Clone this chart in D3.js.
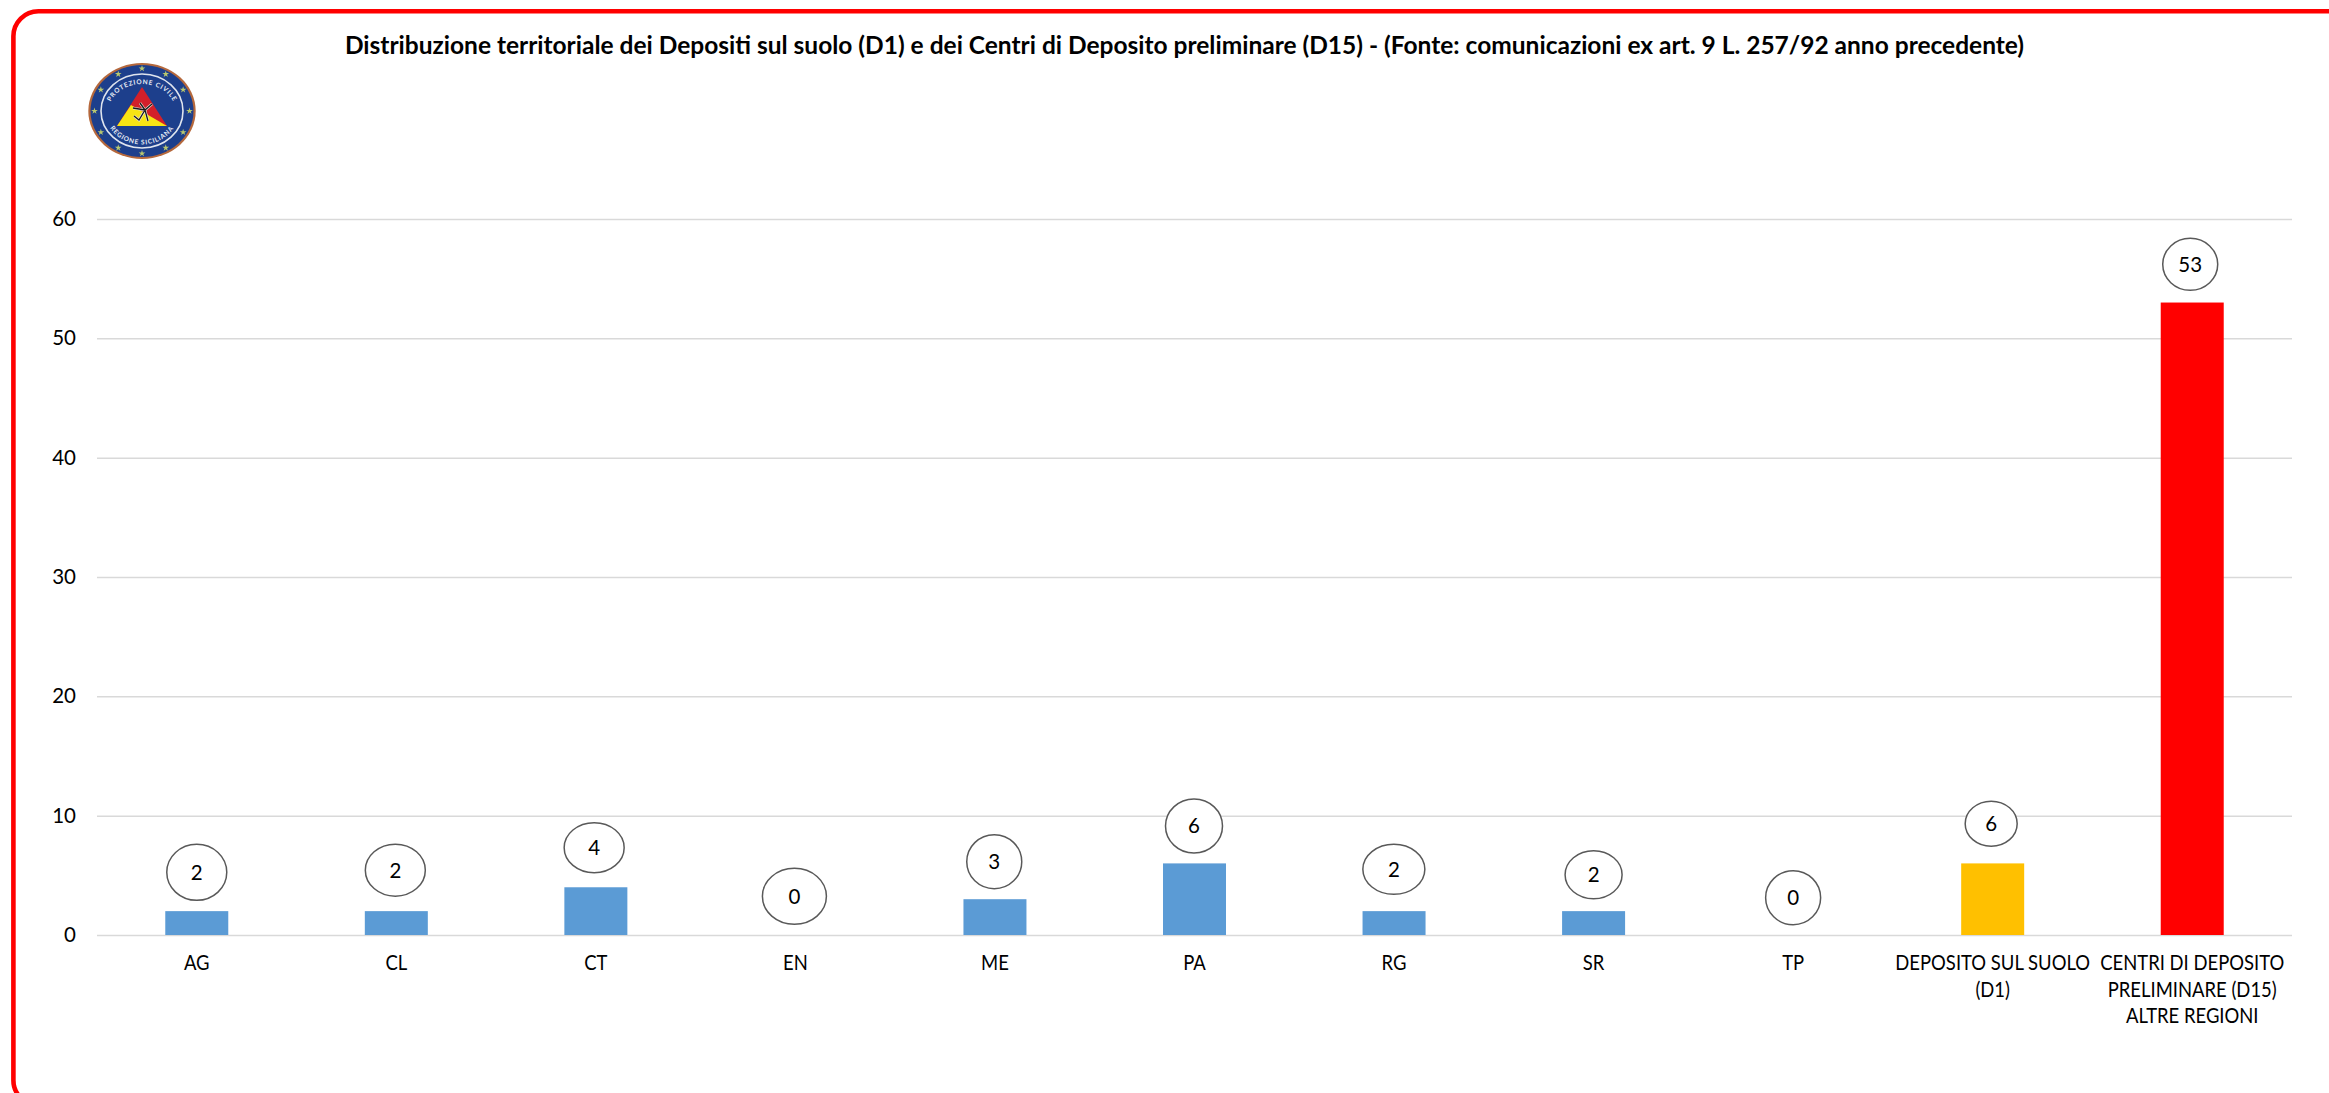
<!DOCTYPE html>
<html lang="it">
<head>
    <meta charset="UTF-8">
    <title>Distribuzione territoriale</title>
    <script src="https://cdnjs.cloudflare.com/ajax/libs/d3/7.8.5/d3.min.js"></script>
    <style>
        html, body { margin: 0; padding: 0; background: #fff; overflow: hidden; }
        svg { display: block; }
        text { font-family: Lato, "Open Sans", sans-serif; }
    </style>
</head>
<body>
    <div id="wrapper"></div>
    <script>
        const titleText = 'Distribuzione territoriale dei Depositi sul suolo (D1) e dei Centri di Deposito preliminare (D15) - (Fonte: comunicazioni ex art. 9 L. 257/92 anno precedente)'
        const categories = ['AG', 'CL', 'CT', 'EN', 'ME', 'PA', 'RG', 'SR', 'TP', 'DEPOSITO SUL SUOLO (D1)', 'CENTRI DI DEPOSITO PRELIMINARE (D15) ALTRE REGIONI']
        const categoryLines = [['AG'], ['CL'], ['CT'], ['EN'], ['ME'], ['PA'], ['RG'], ['SR'], ['TP'],
            ['DEPOSITO SUL SUOLO', '(D1)'], ['CENTRI DI DEPOSITO', 'PRELIMINARE (D15)', 'ALTRE REGIONI']]
        const values = [2, 2, 4, 0, 3, 6, 2, 2, 0, 6, 53]
        const yTicks = [0, 10, 20, 30, 40, 50, 60]

        function drawChart() {
            const dimensions = {
                width: 2329,
                height: 1093,
                margin: { top: 219, right: 37, bottom: 158, left: 97 },
            }
            dimensions.boundedWidth = dimensions.width - dimensions.margin.left - dimensions.margin.right
            dimensions.boundedHeight = dimensions.height - dimensions.margin.top - dimensions.margin.bottom

            const wrapper = d3.select('#wrapper')
                .append('svg')
                    .attr('width', dimensions.width)
                    .attr('height', dimensions.height)
                    .attr('viewBox', `0 0 ${dimensions.width} ${dimensions.height}`)

            // red rounded frame, runs off the right and bottom of the page
            wrapper.append('rect')
                .attr('x', 13.4)
                .attr('y', 11.2)
                .attr('width', 2340)
                .attr('height', 1094)
                .attr('rx', 25)
                .attr('fill', 'none')
                .attr('stroke', '#ff0000')
                .attr('stroke-width', 4.6)

            wrapper.append('text')
                .attr('x', 1184.5)
                .attr('y', 53.5)
                .attr('text-anchor', 'middle')
                .attr('font-weight', 700)
                .attr('font-size', 24.5)
                .attr('fill', '#000')
                .text(titleText)

            drawLogo(wrapper.append('g').attr('transform', 'translate(142,111)'))

            const bounds = wrapper.append('g')
                .attr('transform', `translate(${dimensions.margin.left}, ${dimensions.margin.top})`)

            const xScale = d3.scaleBand()
                .domain(categories)
                .range([0, dimensions.boundedWidth])
            const yScale = d3.scaleLinear()
                .domain([0, 60])
                .range([dimensions.boundedHeight, 0])

            const yAxis = bounds.append('g')
                .call(d3.axisLeft(yScale)
                    .tickValues(yTicks)
                    .tickSize(-dimensions.boundedWidth)
                    .tickPadding(21))
            yAxis.select('.domain').remove()
            yAxis.selectAll('.tick line')
                .attr('stroke', '#d9d9d9')
                .attr('stroke-width', 1.5)
            yAxis.selectAll('.tick text')
                .attr('font-size', 20.5)
                .attr('fill', '#000')

            const xAxis = bounds.append('g')
                .attr('transform', `translate(0, ${dimensions.boundedHeight})`)
                .call(d3.axisBottom(xScale).tickSize(0).tickFormat(''))
            xAxis.select('.domain').remove()
            xAxis.selectAll('.tick text').remove()
            // Lato capitals run wider than the original font, so squeeze them a bit
            xAxis.selectAll('.tick').append('text')
                .attr('text-anchor', 'middle')
                .attr('transform', 'scale(0.9, 1)')
                .attr('font-size', 20.5)
                .attr('fill', '#000')
                .selectAll('tspan')
                .data((d, i) => categoryLines[i])
                .join('tspan')
                    .attr('x', 0)
                    .attr('y', (d, i) => 35.5 + i * 26.5)
                    .text(d => d)

            const barWidth = 63
            const barColor = (d, i) => i === 10 ? '#ff0000' : i === 9 ? '#ffc000' : '#5b9bd5'
            bounds.selectAll('.bar')
                .data(values)
                .join('rect')
                    .attr('class', 'bar')
                    .attr('x', (d, i) => xScale(categories[i]) + xScale.bandwidth() / 2 - barWidth / 2)
                    .attr('y', d => yScale(d))
                    .attr('width', barWidth)
                    .attr('height', d => dimensions.boundedHeight - yScale(d))
                    .attr('fill', barColor)

            // hand-placed callouts: offset above the bar top and ellipse radii, one per bar
            const calloutDy = [-38.8, -41, -39.6, -38.7, -37.5, -37.4, -41.8, -36.4, -37.3, -39.7, -38.2]
            const calloutDx = [0, -1, -1.7, -1, -0.7, -0.5, -0.2, 0, 0, -1.5, -2]
            const calloutRx = [30, 30, 30, 32, 27.5, 28.5, 31, 28.5, 27.5, 26, 27.5]
            const calloutRy = [28, 26, 25, 28, 27, 27, 25, 24, 27, 22.5, 26]

            const callouts = bounds.selectAll('.callout')
                .data(values)
                .join('g')
                    .attr('class', 'callout')
                    .attr('transform', (d, i) => {
                        const cx = xScale(categories[i]) + xScale.bandwidth() / 2 + calloutDx[i]
                        return `translate(${cx}, ${yScale(d) + calloutDy[i]})`
                    })
            callouts.append('ellipse')
                .attr('rx', (d, i) => calloutRx[i])
                .attr('ry', (d, i) => calloutRy[i])
                .attr('fill', '#fff')
                .attr('stroke', '#595959')
                .attr('stroke-width', 1.5)
            callouts.append('text')
                .attr('text-anchor', 'middle')
                .attr('dy', '0.36em')
                .attr('font-size', 20.5)
                .attr('fill', '#000')
                .text(d => d)
        }

        // Protezione Civile badge, redrawn with shapes since the original is a bitmap
        function drawLogo(logo) {
            logo.append('ellipse').attr('rx', 53.7).attr('ry', 48).attr('fill', '#b5683c')
            logo.append('ellipse').attr('rx', 51.5).attr('ry', 46).attr('fill', '#1d3f8c')
            logo.append('ellipse').attr('rx', 41).attr('ry', 37).attr('fill', 'none').attr('stroke', '#dfe4ee').attr('stroke-width', 1.6)

            const star = d3.symbol().type(d3.symbolStar).size(14)
            d3.range(12).forEach(k => {
                const a = k * Math.PI / 6
                logo.append('path')
                    .attr('d', star())
                    .attr('transform', `translate(${47.5 * Math.sin(a)}, ${-42.5 * Math.cos(a)})`)
                    .attr('fill', '#b9c86e')
            })

            logo.append('path').attr('d', 'M0,-24 L25,15 L-25,15 Z').attr('fill', '#d3202a')
            logo.append('path').attr('d', 'M-25,15 L-11,-6 L25,15 Z').attr('fill', '#f7e414')
            logo.append('path')
                .attr('d', 'M-9,-3 L3,-1 L10,-7 M3,-1 L-3,9 L-8,5 M3,-1 L6,10 M-2,-8 L3,-1')
                .attr('fill', 'none')
                .attr('stroke', '#e9e4d8')
                .attr('stroke-width', 2.6)
            logo.append('path')
                .attr('d', 'M-9,-3 L3,-1 L10,-7 M3,-1 L-3,9 L-8,5 M3,-1 L6,10 M-2,-8 L3,-1')
                .attr('fill', 'none')
                .attr('stroke', '#1b1b1b')
                .attr('stroke-width', 1.3)

            const defs = logo.append('defs')
            defs.append('path').attr('id', 'logoTop').attr('d', 'M-34,2 A34,29 0 0 1 34,2')
            defs.append('path').attr('id', 'logoBottom').attr('d', 'M-37,0 A37,33.5 0 0 0 37,0')
            const ringText = [['#logoTop', 'PROTEZIONE CIVILE'], ['#logoBottom', 'REGIONE SICILIANA']]
            ringText.forEach(([href, label]) => {
                logo.append('text')
                    .attr('font-size', 6.5)
                    .attr('font-weight', 700)
                    .attr('letter-spacing', 0.8)
                    .attr('fill', '#e8ecf5')
                    .attr('text-anchor', 'middle')
                    .append('textPath')
                        .attr('href', href)
                        .attr('startOffset', '50%')
                        .text(label)
            })
        }

        drawChart()
    </script>
</body>
</html>
